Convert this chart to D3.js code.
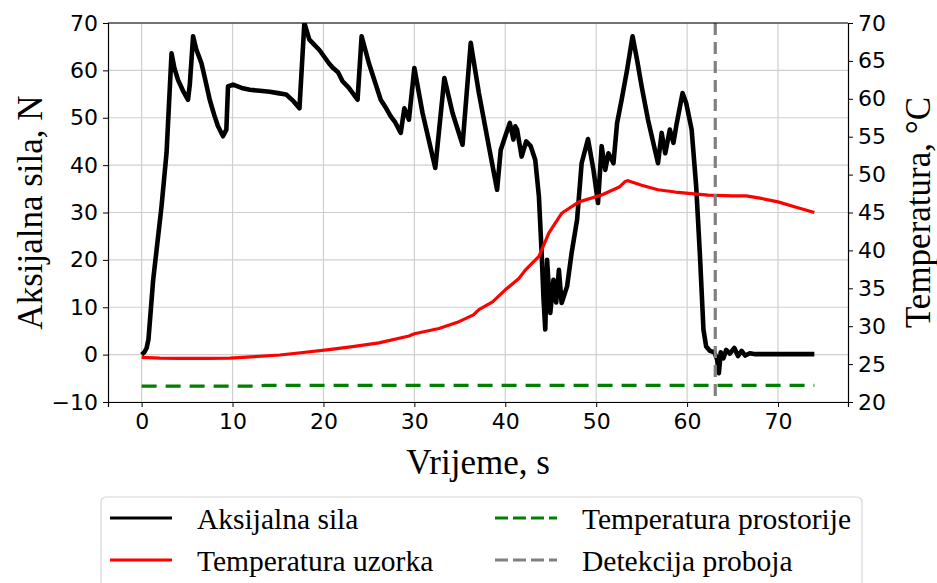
<!DOCTYPE html>
<html>
<head>
<meta charset="utf-8">
<script src="https://cdn.jsdelivr.net/npm/d3@7"></script>
<style>
  body { margin: 0; background: #fff; }
</style>
</head>
<body>
<script>
// Aksijalna sila (N) kroz vrijeme (s)
const silaT = [0, 0.3, 0.55, 0.75, 1.27, 2.19, 2.74, 3.29, 3.6, 4.0, 4.6, 5.1, 5.3, 5.66, 6.0, 6.58, 7.0, 7.49, 8.0, 8.4, 8.95, 9.32, 9.5, 10.05, 11.0, 11.9, 13.0, 14.1, 15.0, 15.9, 16.7, 17.36, 17.9, 18.45, 19.55, 20.6, 21.0, 21.6, 22.1, 22.8, 23.75, 24.2, 25.0, 26.3, 26.9, 27.4, 27.9, 28.5, 28.9, 29.4, 30.0, 30.9, 32.3, 33.3, 34.2, 35.3, 36.2, 37.1, 38.2, 39.1, 39.5, 40.0, 40.5, 40.9, 41.1, 41.3, 41.8, 42.3, 42.8, 43.3, 43.7, 44.0, 44.2, 44.4, 44.6, 44.95, 45.3, 45.6, 45.9, 46.2, 46.8, 47.3, 47.9, 48.4, 49.1, 49.7, 50.2, 50.6, 51.0, 51.35, 51.9, 52.3, 52.8, 53.4, 54.0, 54.5, 55.0, 55.7, 56.8, 57.2, 57.6, 58.1, 58.5, 58.8, 59.5, 59.9, 60.5, 61.0, 61.4, 61.8, 62.1, 62.5, 63.0, 63.3, 63.5, 63.7, 64.0, 64.3, 64.7, 65.2, 65.6, 66.0, 66.4, 66.9, 67.5, 74.0];
const silaV = [0, 0.5, 1.4, 3.2, 15.8, 31.3, 42.6, 63.6, 60.5, 58.0, 55.5, 53.8, 57, 67.2, 64.5, 61.5, 58, 53.8, 50.5, 48.2, 46.1, 47.5, 56.6, 57.0, 56.3, 55.9, 55.7, 55.5, 55.2, 54.9, 53.5, 52.0, 70.0, 66.5, 64.3, 61.5, 60.6, 59.6, 57.7, 56.3, 53.8, 67.2, 61.5, 53.8, 52.0, 50.3, 49.0, 46.8, 52.0, 49.6, 60.5, 51.0, 39.4, 58.4, 51.0, 44.3, 65.8, 55.2, 43.9, 34.8, 43.2, 46.1, 48.9, 45.4, 48.2, 47.5, 41.8, 45, 44.0, 41.1, 33.4, 21.5, 12, 5.3, 20.0, 8.8, 15.8, 11, 17.9, 10.9, 14.4, 21.5, 28.5, 40.4, 45.5, 39.0, 32.0, 44.0, 39.0, 42.5, 40.4, 48.9, 53.8, 60.1, 67.2, 62.2, 56.6, 49.6, 40.4, 46.8, 42.5, 47.5, 44.7, 48.2, 55.2, 53.1, 47.5, 35.5, 21.5, 5.3, 1.7, 0.8, 0.5, -1, -3.9, 0.5, -0.8, 1.0, 0.2, 1.4, -0.3, 0.8, -0.2, 0.3, 0.1, 0.1];

// Temperatura uzorka (°C)
const uzorakT = [0, 2, 4.2, 7, 9.7, 12, 15.2, 17.5, 20.6, 23.2, 26.1, 29.4, 30, 32.7, 34.9, 36.5, 37.1, 38.6, 40.0, 41.5, 42.2, 43.7, 44.8, 46.2, 48.1, 50.6, 52.6, 53.2, 53.5, 55, 56.8, 58.7, 62.3, 65, 66.5, 68, 70, 72, 74];
const uzorakV = [25.9, 25.8, 25.75, 25.75, 25.8, 25.95, 26.2, 26.5, 26.9, 27.3, 27.8, 28.7, 29.0, 29.7, 30.6, 31.5, 32.2, 33.2, 34.8, 36.3, 37.4, 39.2, 42.3, 44.9, 46.4, 47.3, 48.4, 49.1, 49.2, 48.6, 48.0, 47.7, 47.3, 47.2, 47.2, 46.9, 46.4, 45.7, 45.0];

// Temperatura prostorije (°C)
const prostorijaT = [0, 13, 13.5, 74];
const prostorijaV = [22.1, 22.1, 22.2, 22.2];

// Detekcija proboja (s)
const proboj = 63.1;

const xTicks = [0, 10, 20, 30, 40, 50, 60, 70];
const yTicks = [-10, 0, 10, 20, 30, 40, 50, 60, 70];
const y2Ticks = [20, 25, 30, 35, 40, 45, 50, 55, 60, 65, 70];

const legendNames = ["Aksijalna sila", "Temperatura uzorka", "Temperatura prostorije", "Detekcija proboja"];

const W = 937, H = 583;
const margin = { top: 23, right: 89, bottom: 181, left: 108 };
const width = W - margin.left - margin.right;
const height = H - margin.top - margin.bottom;

const svg = d3.select("body").append("svg")
    .attr("width", W)
    .attr("height", H);

const g = svg.append("g")
    .attr("transform", "translate(" + margin.left + "," + margin.top + ")");

const x = d3.scaleLinear().domain([-3.7, 77.7]).range([0, width]);
const y = d3.scaleLinear().domain([-10, 70]).range([height, 0]);
const y2 = d3.scaleLinear().domain([20, 70]).range([height, 0]);

// mreža
g.append("g").selectAll("line").data(xTicks).join("line")
    .attr("x1", d => x(d)).attr("x2", d => x(d))
    .attr("y1", 0).attr("y2", height)
    .attr("stroke", "#cfcfcf").attr("stroke-width", 1.2);
g.append("g").selectAll("line").data(yTicks).join("line")
    .attr("x1", 0).attr("x2", width)
    .attr("y1", d => y(d)).attr("y2", d => y(d))
    .attr("stroke", "#cfcfcf").attr("stroke-width", 1.2);

g.append("defs").append("clipPath").attr("id", "clip")
    .append("rect").attr("width", width).attr("height", height);

const plot = g.append("g").attr("clip-path", "url(#clip)");

const lineSila = d3.line().x((d, i) => x(silaT[i])).y(d => y(d));
const lineT = (ts) => d3.line().x((d, i) => x(ts[i])).y(d => y2(d));

plot.append("path")
    .attr("d", lineT(prostorijaT)(prostorijaV))
    .attr("fill", "none").attr("stroke", "#008000")
    .attr("stroke-width", 3.2).attr("stroke-dasharray", "15,9");

plot.append("path")
    .attr("d", lineSila(silaV))
    .attr("fill", "none").attr("stroke", "#000")
    .attr("stroke-width", 4.6).attr("stroke-linejoin", "round");

plot.append("path")
    .attr("d", lineT(uzorakT)(uzorakV))
    .attr("fill", "none").attr("stroke", "#ff0000")
    .attr("stroke-width", 3.2).attr("stroke-linejoin", "round");

plot.append("line")
    .attr("x1", x(proboj)).attr("x2", x(proboj))
    .attr("y1", 0).attr("y2", height)
    .attr("stroke", "#808080").attr("stroke-width", 3.2)
    .attr("stroke-dasharray", "12,7");

// osi
const tickFont = "DejaVu Sans, sans-serif";

const ax = g.append("g").attr("transform", "translate(0," + height + ")")
    .call(d3.axisBottom(x).tickValues(xTicks).tickSizeOuter(0).tickSize(5).tickPadding(6));
const ay = g.append("g")
    .call(d3.axisLeft(y).tickValues(yTicks).tickSizeOuter(0).tickSize(5).tickPadding(5));
const ay2 = g.append("g").attr("transform", "translate(" + width + ",0)")
    .call(d3.axisRight(y2).tickValues(y2Ticks).tickSizeOuter(0).tickSize(5).tickPadding(5));

[ax, ay, ay2].forEach(a => {
    a.selectAll("text").style("font-family", tickFont).style("font-size", "22px").attr("fill", "#000");
    a.selectAll("line").attr("stroke", "#000").attr("stroke-width", 1);
    a.select(".domain").attr("stroke", "#000").attr("stroke-width", 1.2);
});

// gornji rub
g.append("line").attr("x1", 0).attr("x2", width).attr("y1", 0).attr("y2", 0)
    .attr("stroke", "#000").attr("stroke-width", 1.2);

const labelFont = "Liberation Serif, Times New Roman, serif";

svg.append("text")
    .attr("x", margin.left + x(37)).attr("y", 474)
    .attr("text-anchor", "middle")
    .style("font-family", labelFont).style("font-size", "35px")
    .text("Vrijeme, s");

svg.append("text")
    .attr("transform", "translate(42," + (margin.top + height / 2) + ") rotate(-90)")
    .attr("text-anchor", "middle")
    .style("font-family", labelFont).style("font-size", "35px")
    .text("Aksijalna sila, N");

svg.append("text")
    .attr("transform", "translate(930," + (margin.top + height / 2) + ") rotate(-90)")
    .attr("text-anchor", "middle")
    .style("font-family", labelFont).style("font-size", "35px")
    .text("Temperatura, °C");

// legenda
const leg = svg.append("g");
leg.append("rect")
    .attr("x", 101).attr("y", 497).attr("width", 761).attr("height", 105)
    .attr("rx", 5)
    .attr("fill", "#fff").attr("stroke", "#d6d6d6").attr("stroke-width", 1.2);

const legItems = [
    { name: legendNames[0], color: "#000", dash: null, lx: 110, ly: 518 },
    { name: legendNames[1], color: "#ff0000", dash: null, lx: 110, ly: 560 },
    { name: legendNames[2], color: "#008000", dash: "13,5", lx: 495, ly: 518 },
    { name: legendNames[3], color: "#808080", dash: "13,5", lx: 495, ly: 560 }
];

legItems.forEach(d => {
    leg.append("line")
        .attr("x1", d.lx).attr("x2", d.lx + 62)
        .attr("y1", d.ly).attr("y2", d.ly)
        .attr("stroke", d.color).attr("stroke-width", 3.2)
        .attr("stroke-dasharray", d.dash);
    leg.append("text")
        .attr("x", d.lx + 87).attr("y", d.ly + 11)
        .style("font-family", labelFont).style("font-size", "29.5px")
        .text(d.name);
});
</script>
</body>
</html>
